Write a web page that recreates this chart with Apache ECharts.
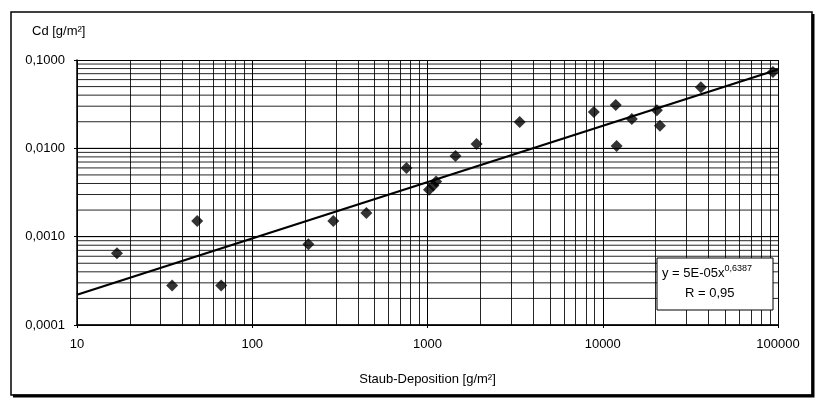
<!DOCTYPE html>
<html>
<head>
<meta charset="utf-8">
<script src="https://cdn.jsdelivr.net/npm/echarts@6/dist/echarts.min.js"></script>
<style>
  html, body { margin: 0; padding: 0; background: #fff; }
  #chart { width: 821px; height: 400px; }
</style>
</head>
<body>
<div id="chart"></div>
<script>
    // Messpunkte: Staub-Deposition [g/m²] vs. Cd [g/m²]
    var depositValues = [16.9, 34.9, 48.5, 66.5, 209, 290, 448, 759, 1020, 1080, 1120,
                         1445, 1906, 3357, 8890, 11860, 12000, 14650, 20370, 21200, 36300, 93600];
    var cdValues = [0.00065, 0.00028, 0.0015, 0.00028, 0.00082, 0.0015, 0.00185, 0.006, 0.0034, 0.0038, 0.0042,
                    0.0082, 0.0112, 0.0199, 0.0258, 0.031, 0.0106, 0.0215, 0.027, 0.018, 0.049, 0.073];

    // Trendlinie (Potenz), Endpunkte
    var trendX = [10, 100000];
    var trendY = [0.00022, 0.078];

    var xDecades = [10, 100, 1000, 10000];
    var yDecades = [0.0001, 0.001, 0.01];
    var multipliers = [1, 2, 3, 4, 5, 6, 7, 8, 9];

    var equationText = 'y = 5E-05x';
    var equationExp = '0,6387';
    var rText = 'R = 0,95';

    var points = depositValues.map(function (x, i) { return [x, cdValues[i]]; });
    var trend = trendX.map(function (x, i) { return [x, trendY[i]]; });

    var xMin = 10, xMax = 100000;
    var lineColor = 'rgba(0,0,0,0.85)';

    var vLines = [];
    xDecades.forEach(function (d) {
        multipliers.forEach(function (m) { vLines.push({ xAxis: d * m }); });
    });

    //horizontale Gitterlinien als eigene Serien
    var hSeries = [];
    yDecades.forEach(function (d) {
        multipliers.forEach(function (m) {
            var v = parseFloat((d * m).toPrecision(6));
            hSeries.push({
                type: 'line',
                data: [[xMin, v], [xMax, v]],
                symbol: 'none',
                silent: true,
                lineStyle: { color: lineColor, width: 1 },
                z: 1
            });
        });
    });

    var font = 'Liberation Sans, Arial, sans-serif';
    var myChart = echarts.init(document.getElementById('chart'));
    var option = {
        backgroundColor: '#fff',
        animation: false,
        title: {
            text: 'Cd [g/m²]',
            left: 27,
            top: 20,
            textStyle: { fontFamily: font, fontSize: 13, fontWeight: 'normal', color: '#000' }
        },
        grid: { left: 77, right: 43, top: 60, bottom: 75 },
        xAxis: {
            type: 'log',
            logBase: 10,
            min: xMin,
            max: xMax,
            name: 'Staub-Deposition [g/m²]',
            nameLocation: 'middle',
            nameGap: 48,
            nameTextStyle: { fontFamily: font, fontSize: 13, color: '#000' },
            axisLine: { lineStyle: { color: '#000', width: 1.5 } },
            axisTick: { show: true, length: 3, lineStyle: { color: '#000' } },
            axisLabel: {
                fontFamily: font, fontSize: 13, color: '#000', margin: 13,
                formatter: function (v) { return String(Math.round(v)); }
            },
            splitLine: { show: true, lineStyle: { color: '#000', width: 1 } }
        },
        yAxis: {
            type: 'log',
            logBase: 10,
            min: 0.0001,
            max: 0.1,
            axisLine: { show: true, lineStyle: { color: '#000', width: 1.5 } },
            axisTick: { show: true, length: 3, lineStyle: { color: '#000' } },
            axisLabel: {
                fontFamily: font, fontSize: 13, color: '#000', margin: 12,
                formatter: function (v) { return Number(v).toFixed(4).replace('.', ','); }
            },
            splitLine: { show: true, lineStyle: { color: '#000', width: 1 } }
        },
        series: hSeries.concat([
            {
                type: 'line',
                data: [],
                silent: true,
                markLine: {
                    silent: true,
                    symbol: ['none', 'none'],
                    label: { show: false },
                    lineStyle: { color: lineColor, type: 'solid', width: 1 },
                    data: vLines
                }
            },
            {
                type: 'line',
                data: trend,
                symbol: 'none',
                lineStyle: { color: '#000', width: 2.2 },
                silent: true,
                z: 3
            },
            {
                type: 'scatter',
                data: points,
                symbol: 'diamond',
                symbolSize: 12,
                itemStyle: { color: '#000' },
                z: 4
            }
        ]),
        graphic: [
            {
                type: 'rect',
                shape: { x: 11, y: 12, width: 801, height: 383 },
                style: { fill: 'none', stroke: '#000', lineWidth: 1.5 },
                z: 10
            },
            {
                type: 'polyline',
                shape: { points: [[813, 14], [813, 396], [13, 396]] },
                style: { fill: 'none', stroke: '#000', lineWidth: 3 },
                z: 10
            },
            {
                type: 'rect',
                shape: { x: 657, y: 258, width: 116, height: 52 },
                style: { fill: '#fff', stroke: '#000', lineWidth: 1 },
                z: 10
            },
            {
                type: 'text',
                left: 662,
                top: 264,
                z: 11,
                style: {
                    text: '{a|' + equationText + '}{b|' + equationExp + '}',
                    rich: {
                        a: { fontFamily: font, fontSize: 13, fill: '#000', lineHeight: 18 },
                        b: { fontFamily: font, fontSize: 9, fill: '#000', verticalAlign: 'top', lineHeight: 10, padding: [0, 0, 10, 0] }
                    }
                }
            },
            {
                type: 'text',
                left: 685,
                top: 287,
                z: 11,
                style: { text: rText, fontFamily: font, fontSize: 13, fill: '#000' }
            }
        ]
    };
    myChart.setOption(option);
    window.onresize = myChart.resize;
</script>
</body>
</html>
